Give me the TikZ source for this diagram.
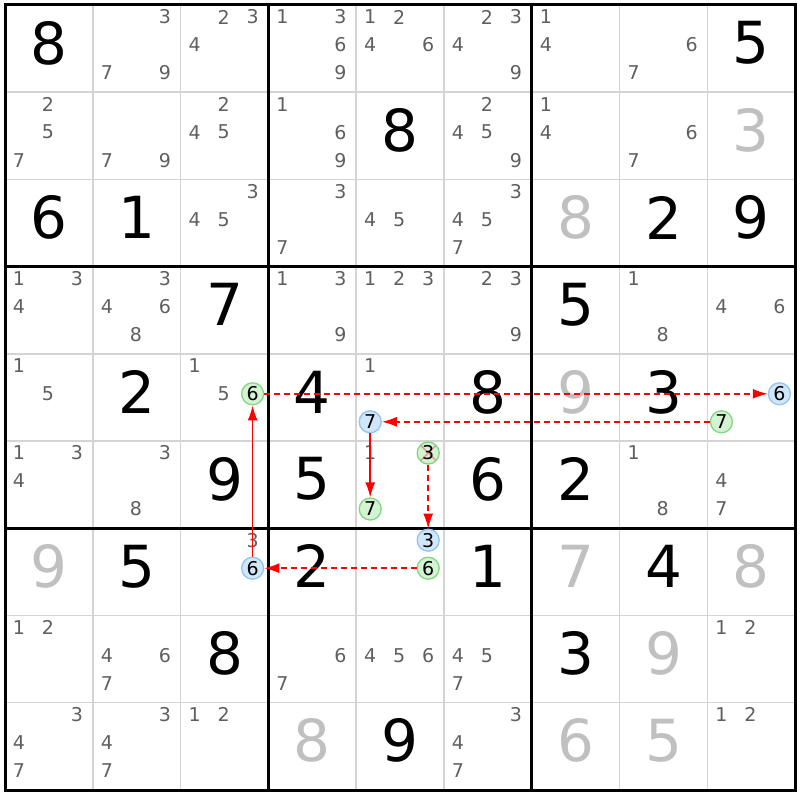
\documentclass[tikz,border=0pt]{standalone}
\usepackage{fontspec}
\setmainfont{DejaVu Sans}
\usetikzlibrary{arrows.meta}
\definecolor{gridgrey}{HTML}{D4D4D4}
\definecolor{cand}{HTML}{5F5F5F}
\definecolor{solvedgrey}{HTML}{C0C0C0}
\definecolor{gfill}{HTML}{D4F2D4}
\definecolor{gdraw}{HTML}{80D880}
\definecolor{bfill}{HTML}{D2E6FA}
\definecolor{bdraw}{HTML}{90C4F4}
\definecolor{xred}{HTML}{F08888}
\definecolor{arrred}{HTML}{FF0000}
\begin{document}
\begin{tikzpicture}[x=1pt,y=-1pt,
  given/.style={inner sep=0pt, font=\fontsize{58}{58}\selectfont, text=black},
  solvedd/.style={given, text=solvedgrey},
  candd/.style={inner sep=0pt, font=\fontsize{19}{19}\selectfont, text=cand},
  gc/.style={circle, minimum size=22pt, inner sep=0pt, fill=gfill, draw=gdraw, line width=1.3pt, font=\fontsize{19}{19}\selectfont, text=black},
  bc/.style={gc, fill=bfill, draw=bdraw},
  link/.style={draw=arrred, color=arrred, line width=1.5pt, -{Latex[length=15pt,width=10pt]}},
  weak/.style={link, dash pattern=on 6pt off 4pt},
  thinline/.style={draw=gridgrey, line width=1.5pt},
  thickline/.style={draw=black, line width=3pt}]
\useasboundingbox (0,0) rectangle (800,800);
\fill[white] (0,0) rectangle (800,800);
% grid
\foreach \i in {1,2,4,5,7,8} {
  \draw[thinline] ({5+87.8*\i},5) -- ({5+87.8*\i},790);
  \draw[thinline] (5,{5+87.2*\i}) -- (795,{5+87.2*\i});
}
\foreach \i in {3,6} {
  \draw[thickline] ({5+87.8*\i},5) -- ({5+87.8*\i},790);
  \draw[thickline] (5,{5+87.2*\i}) -- (795,{5+87.2*\i});
}
\draw[thickline] (5,5) rectangle (795,790);
% givens
\foreach \r/\c/\d in {1/1/8, 1/9/5, 2/5/8, 3/1/6, 3/2/1, 3/8/2, 3/9/9, 4/3/7, 4/7/5, 5/2/2, 5/4/4, 5/6/8, 5/8/3, 6/3/9, 6/4/5, 6/6/6, 6/7/2, 7/2/5, 7/4/2, 7/6/1, 7/8/4, 8/3/8, 8/7/3, 9/5/9}
  \node[given] (g\r\c) at ({5+87.8*(\c-0.5)},{5+87.2*(\r-0.5)-5.5}) {\d};
% solved
\foreach \r/\c/\d in {2/9/3, 3/7/8, 5/7/9, 7/1/9, 7/7/7, 7/9/8, 8/8/9, 9/4/8, 9/7/6, 9/8/5}
  \node[solvedd] (g\r\c) at ({5+87.8*(\c-0.5)},{5+87.2*(\r-0.5)-5.5}) {\d};
% candidates
\foreach \r/\c/\L in {1/2/{3,7,9}, 1/3/{2,3,4}, 1/4/{1,3,6,9}, 1/5/{1,2,4,6}, 1/6/{2,3,4,9}, 1/7/{1,4}, 1/8/{6,7},
  2/1/{2,5,7}, 2/2/{7,9}, 2/3/{2,4,5}, 2/4/{1,6,9}, 2/6/{2,4,5,9}, 2/7/{1,4}, 2/8/{6,7},
  3/3/{3,4,5}, 3/4/{3,7}, 3/5/{4,5}, 3/6/{3,4,5,7},
  4/1/{1,3,4}, 4/2/{3,4,6,8}, 4/4/{1,3,9}, 4/5/{1,2,3}, 4/6/{2,3,9}, 4/8/{1,8}, 4/9/{4,6},
  5/1/{1,5}, 5/3/{1,5}, 5/5/{1},
  6/1/{1,3,4}, 6/2/{3,8}, 6/5/{1}, 6/8/{1,8}, 6/9/{4,7},
  7/3/{3},
  8/1/{1,2}, 8/2/{4,6,7}, 8/4/{6,7}, 8/5/{4,5,6}, 8/6/{4,5,7}, 8/9/{1,2},
  9/1/{3,4,7}, 9/2/{3,4,7}, 9/3/{1,2}, 9/6/{3,4,7}, 9/9/{1,2}}
  \foreach \d in \L
    \node[candd] (n\r\c\d) at ({5+87.8*(\c-1)+14+29*mod(\d-1,3)},{5+87.2*(\r-1)+12+28*div(\d-1,3)}) {\d};
% circled candidates
\foreach \r/\c/\d/\st in {5/3/6/gc, 5/5/7/bc, 5/9/6/bc, 5/9/7/gc, 6/5/7/gc, 7/3/6/bc, 7/5/3/bc, 7/5/6/gc}
  \node[\st] (k\r\c\d) at ({5+87.8*(\c-1)+14+29*mod(\d-1,3)},{5+87.2*(\r-1)+12+28*div(\d-1,3)}) {\d};
\node[gc, path picture={
    \draw[xred, line width=1.3pt] (path picture bounding box.north west) -- (path picture bounding box.south east);
    \draw[xred, line width=1.3pt] (path picture bounding box.north east) -- (path picture bounding box.south west);}]
  (k653) at ({5+87.8*4+72},{5+87.2*5+12}) {3};
% links
\draw[link] (k736) -- (k536);
\draw[weak] (k536) -- (k596);
\draw[weak] (k597) -- (k557);
\draw[link] (k557) -- (k657);
\draw[weak] (k653) -- (k753);
\draw[weak] (k756) -- (k736);
\end{tikzpicture}
\end{document}
